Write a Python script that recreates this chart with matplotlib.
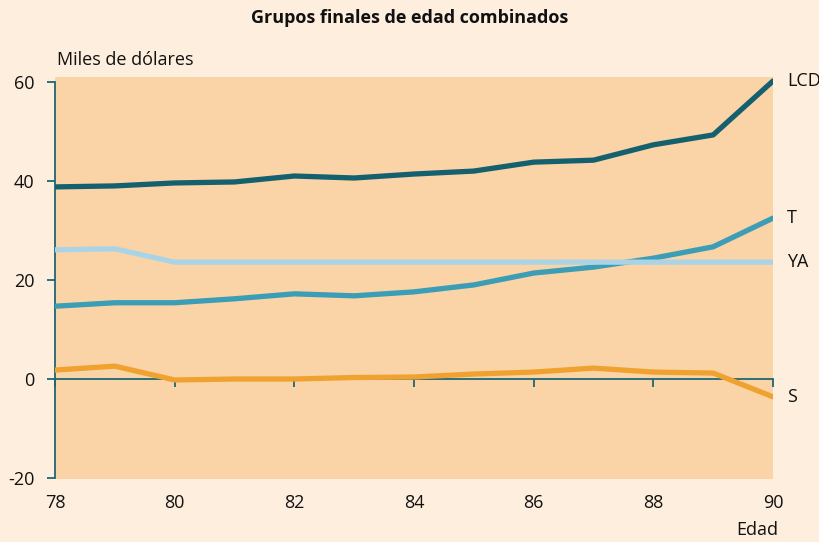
import matplotlib

matplotlib.use("Agg")
import matplotlib.pyplot as plt

plt.rcParams["font.family"] = ["Open Sans", "DejaVu Sans"]
plt.rcParams["axes.unicode_minus"] = False

# datos (miles de dolares por edad)
edades = [78, 79, 80, 81, 82, 83, 84, 85, 86, 87, 88, 89, 90]
lcd = [38.8, 39.0, 39.6, 39.8, 41.0, 40.6, 41.4, 42.0, 43.8, 44.2, 47.3, 49.3, 60.2]
t = [14.7, 15.4, 15.4, 16.2, 17.2, 16.8, 17.6, 19.0, 21.4, 22.6, 24.4, 26.7, 32.5]
ya = [26.1, 26.3, 23.6, 23.6, 23.6, 23.6, 23.6, 23.6, 23.6, 23.6, 23.6, 23.6, 23.6]
s = [1.8, 2.6, -0.2, 0.0, 0.0, 0.3, 0.4, 1.0, 1.4, 2.2, 1.4, 1.2, -3.6]

series = [("LCD", lcd, "#15606f"), ("T", t, "#3b9db6"),
          ("YA", ya, "#aad4e6"), ("S", s, "#f0a231")]

x_ticks = [78, 80, 82, 84, 86, 88, 90]
y_ticks = [-20, 0, 20, 40, 60]

FONDO = "#fdeedd"
AREA = "#fad4a6"
EJE = "#1d6676"

fig = plt.figure(figsize=(8.2, 5.42), dpi=100, facecolor=FONDO)
ax = fig.add_axes([55 / 820, 63 / 542, 718 / 820, 402 / 542])
ax.set_facecolor(AREA)

for nombre, valores, color in series:
    ax.plot(edades, valores, color=color, lw=3.8, solid_capstyle="round",
            solid_joinstyle="round", zorder=3)
    ax.annotate(nombre, (edades[-1], valores[-1]), xytext=(10, 0),
                textcoords="offset points", va="center", ha="left",
                fontsize=13, color="#111111", annotation_clip=False)

ax.set_xlim(78, 90)
ax.set_ylim(-20.2, 61)

for lado in ["top", "right"]:
    ax.spines[lado].set_visible(False)
ax.spines["left"].set_color(EJE)
ax.spines["left"].set_linewidth(1.3)
ax.spines["left"].set_bounds(-20, 60)
ax.spines["bottom"].set_position(("data", 0))
ax.spines["bottom"].set_color(EJE)
ax.spines["bottom"].set_linewidth(1.3)

ax.set_yticks(y_ticks)
ax.tick_params(axis="y", direction="out", length=6, width=1.3, color=EJE,
               labelsize=13, labelcolor="#111111", pad=9)
ax.set_xticks(x_ticks)
ax.tick_params(axis="x", direction="out", length=6, width=1.3, color=EJE,
               labelbottom=False)

# etiquetas del eje x abajo del area
sec = ax.secondary_xaxis(-0.0)
sec.set_xticks(x_ticks)
sec.spines["bottom"].set_visible(False)
sec.tick_params(length=0, labelsize=13, labelcolor="#111111", pad=11)

fig.text(410 / 820, 1 - 18 / 542, "Grupos finales de edad combinados",
         ha="center", va="center", fontsize=13, fontweight="bold",
         color="#111111")
fig.text(57 / 820, 1 - 60 / 542, "Miles de dólares", ha="left", va="center",
         fontsize=13, color="#111111")
fig.text(778 / 820, 1 - 530 / 542, "Edad", ha="right", va="center",
         fontsize=13, color="#111111")

fig.savefig("out.png", dpi=100, facecolor=FONDO)
